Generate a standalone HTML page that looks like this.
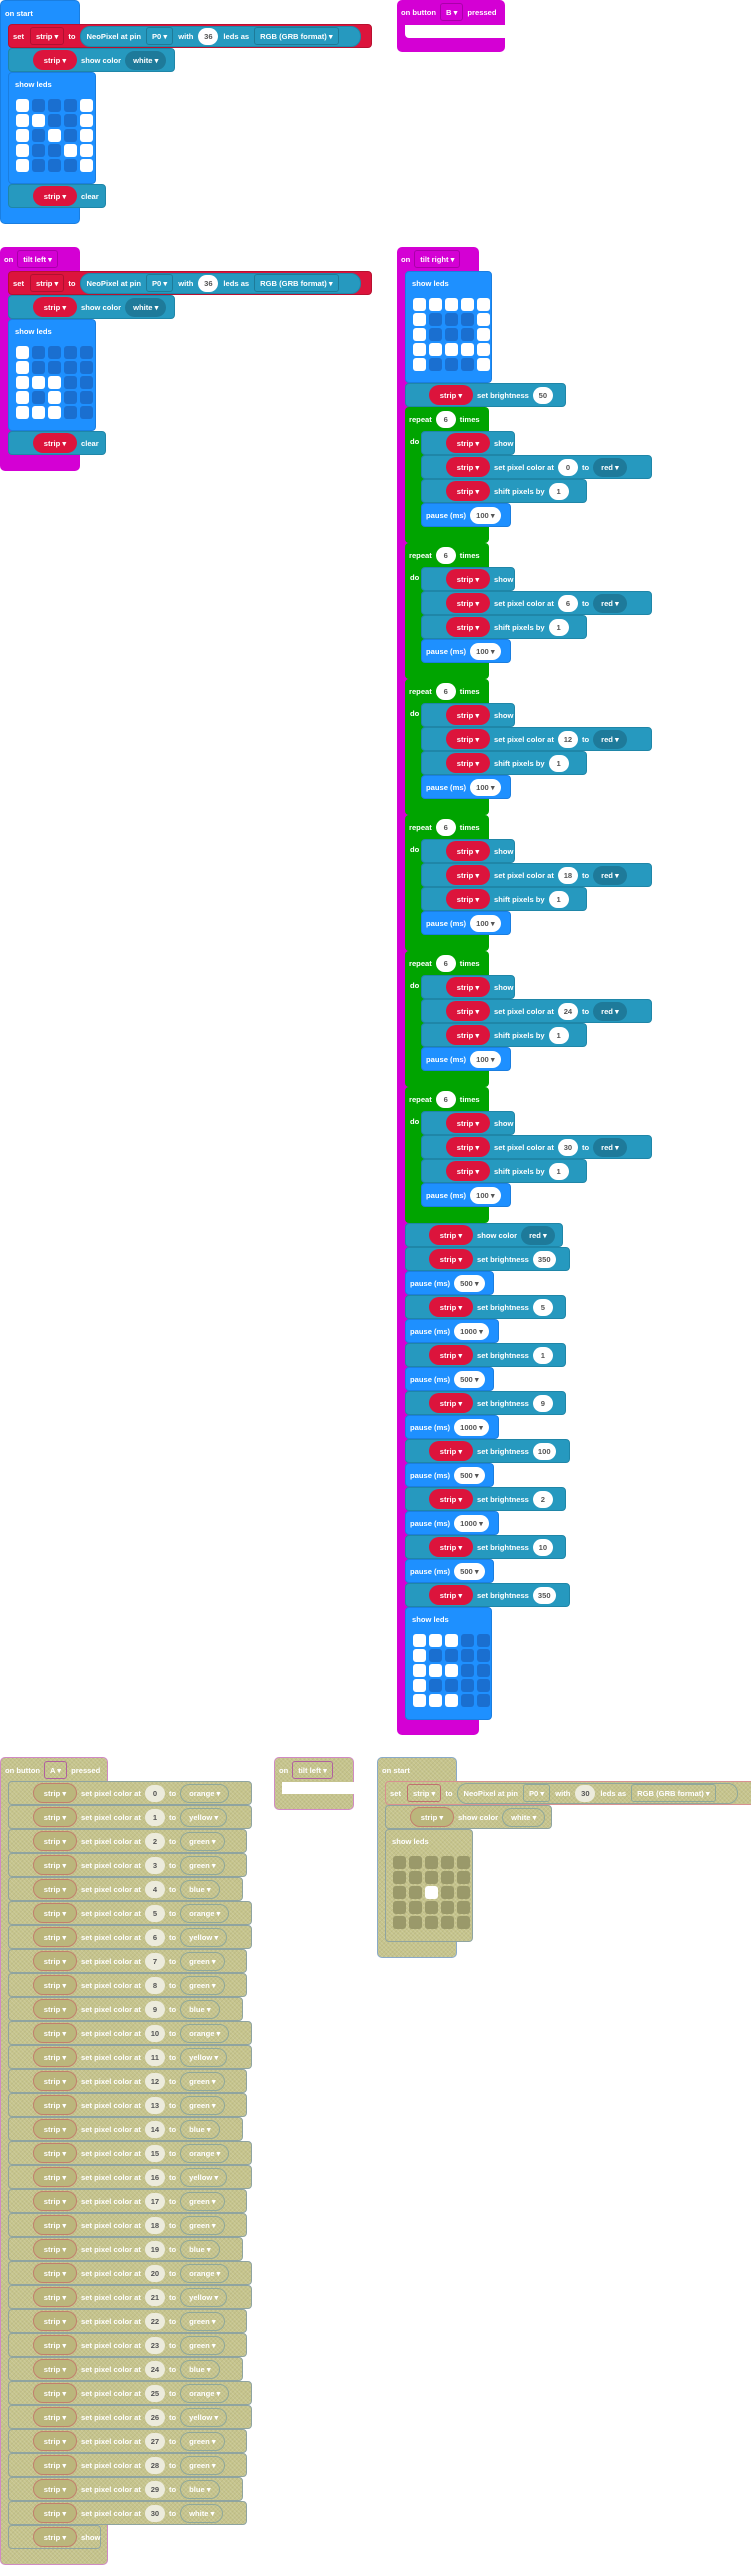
<!DOCTYPE html>
<html><head><meta charset="utf-8"><style>
*{box-sizing:border-box}
body{margin:0;width:751px;height:2566px;overflow:hidden;background:#fff;position:relative;font:bold 7.6px "Liberation Sans",sans-serif;color:#fff}
.h{position:absolute;border-radius:5px}
.hd{position:absolute;left:0;top:0;height:24px;display:flex;align-items:center;gap:4px;padding-left:4px;white-space:nowrap}
.st{position:absolute;height:24px;display:flex;align-items:center;gap:4px;padding-left:24px;border-radius:4px;white-space:nowrap}
.tl{background:#2699bf;border:1px solid #1f86a8}
.rd{background:#dc143c;border:1px solid #b8102f}
.bl{background:#1e90ff;border:1px solid #1a7ee0}
.gr{background:#00a400}
.pu{background:#d400d4}
.sp{height:20px;border-radius:10px;background:#dc143c;display:flex;align-items:center;padding:0 8px;min-width:44px;justify-content:center}
.nm{height:17px;border-radius:9px;background:#fff;color:#555;display:flex;align-items:center;justify-content:center;min-width:20px;padding:0 5px}
.dd{height:19px;border-radius:10px;display:flex;align-items:center;padding:0 8px;background:#1e7a9a}
.dw{height:17px;border-radius:9px;background:#fff;color:#555;display:flex;align-items:center;padding:0 6px}
.sq{height:18px;border-radius:3px;display:flex;align-items:center;padding:0 5px;border:1px solid rgba(0,0,0,.2)}
.lb{position:absolute;left:6px;top:7px}
.g{position:absolute;left:7px;top:26px;width:80px;height:75px}
.c{position:absolute;width:13px;height:13px;border-radius:3px;background:#1a6fd0}
.c.on{background:#fff}
.d{background:#c6c48c;background-image:repeating-linear-gradient(45deg,rgba(255,255,255,.13) 0 1px,transparent 1px 3px),repeating-linear-gradient(-45deg,rgba(0,0,0,.05) 0 1px,transparent 1px 3px);border:1px solid #8fa4a0}
.ds{background:#bbb67c;border:1px solid #c27f6c}
.dn{background:#ecebdc;color:#555}
.ddd{background:transparent;border:1px solid #8fa89a}
.dc{background:#9a996a}
</style></head><body>

<div class="h bl" style="left:0;top:0;width:80px;height:224px"><div class="hd">on start</div></div>
<div class="st rd" style="left:8px;top:24px;width:364px;padding-left:4px"><span style="margin-right:2px">set</span><span class="sq" style="background:#dc143c">strip ▾</span>to<span class="dd" style="background:#2699bf;height:21px;padding:0 6px;gap:5px;width:281px;border:1px solid #1f86a8">NeoPixel at pin<span class="sq">P0 ▾</span>with<span class="nm">36</span>leds as<span class="sq">RGB (GRB format) ▾</span></span></div>
<div class="st tl" style="left:8px;top:48px;width:167px"><span class="sp">strip ▾</span>show color<span class="dd">white ▾</span></div>
<div class="h bl" style="left:8px;top:72px;width:88px;height:112px;border-radius:4px"><span class="lb">show leds</span><div class="g" id="g1"></div></div>
<div class="st tl" style="left:8px;top:184px;width:98px"><span class="sp">strip ▾</span>clear</div>

<div class="h pu" style="left:397px;top:0;width:108px;height:52px"><div class="hd">on button <span class="sq">B ▾</span> pressed</div></div>
<div style="position:absolute;left:405px;top:25px;width:100px;height:13px;background:#fff;border-radius:0 0 0 4px"></div>

<div class="h pu" style="left:0;top:247px;width:80px;height:224px"><div class="hd">on <span class="sq">tilt left ▾</span></div></div>
<div class="st rd" style="left:8px;top:271px;width:364px;padding-left:4px"><span style="margin-right:2px">set</span><span class="sq" style="background:#dc143c">strip ▾</span>to<span class="dd" style="background:#2699bf;height:21px;padding:0 6px;gap:5px;width:281px;border:1px solid #1f86a8">NeoPixel at pin<span class="sq">P0 ▾</span>with<span class="nm">36</span>leds as<span class="sq">RGB (GRB format) ▾</span></span></div>
<div class="st tl" style="left:8px;top:295px;width:167px"><span class="sp">strip ▾</span>show color<span class="dd">white ▾</span></div>
<div class="h bl" style="left:8px;top:319px;width:88px;height:112px;border-radius:4px"><span class="lb">show leds</span><div class="g" id="g2"></div></div>
<div class="st tl" style="left:8px;top:431px;width:98px"><span class="sp">strip ▾</span>clear</div>

<div class="h pu" style="left:397px;top:247px;width:82px;height:1488px"><div class="hd">on <span class="sq">tilt right ▾</span></div></div>
<div class="h bl" style="left:405px;top:271px;width:87px;height:112px;border-radius:4px"><span class="lb">show leds</span><div class="g" id="g3"></div></div>
<div class="st tl" style="left:405px;top:383px;width:161px;padding-left:23px"><span class="sp">strip ▾</span>set brightness<span class="nm">50</span></div>
<div id="reps"></div>
<div id="tail"></div>
<div class="h bl" style="left:405px;top:1607px;width:87px;height:113px;border-radius:4px"><span class="lb">show leds</span><div class="g" id="g4"></div></div>

<div class="h d" style="left:0;top:1757px;width:108px;height:808px;border-color:#d08ac4"><div class="hd">on button <span class="sq ddd" style="border-color:#b060a0">A ▾</span> pressed</div></div>
<div id="rows"></div>
<div class="st d" style="left:8px;top:2525px;width:93px"><span class="sp ds">strip ▾</span>show</div>

<div class="h d" style="left:274px;top:1757px;width:80px;height:53px;border-color:#d08ac4"><div class="hd">on <span class="sq ddd" style="border-color:#b060a0">tilt left ▾</span></div></div>
<div style="position:absolute;left:282px;top:1782px;width:72px;height:12px;background:#fff"></div>

<div class="h d" style="left:377px;top:1757px;width:80px;height:201px;border-color:#8aaac8"><div class="hd">on start</div></div>
<div class="st d" style="left:385px;top:1781px;width:380px;padding-left:4px;border-color:#d89090"><span style="margin-right:2px">set</span><span class="sq ddd" style="border-color:#c07070">strip ▾</span>to<span class="dd ddd" style="height:21px;padding:0 6px;gap:5px;width:281px">NeoPixel at pin<span class="sq ddd">P0 ▾</span>with<span class="nm dn">30</span>leds as<span class="sq ddd">RGB (GRB format) ▾</span></span></div>
<div class="st d" style="left:385px;top:1805px;width:167px"><span class="sp ds">strip ▾</span>show color<span class="dd ddd">white ▾</span></div>
<div class="h d" style="left:385px;top:1829px;width:88px;height:113px;border-radius:4px"><span class="lb">show leds</span><div class="g" id="g5"></div></div>

<script>
function grid(id,p,dis){var g=document.getElementById(id),h='';for(var r=0;r<5;r++)for(var c=0;c<5;c++){var on=p[r][c]=='1';h+='<div class="c'+(on?' on':(dis?' dc':''))+'" style="left:'+(c*16)+'px;top:'+(r*15)+'px"></div>';}g.innerHTML=h;}
grid('g1',['10001','11001','10101','10011','10001']);
grid('g2',['10000','10000','11100','10100','11100']);
grid('g3',['11111','10001','10001','11111','10001']);
grid('g4',['11100','10000','11100','10000','11100']);
grid('g5',['00000','00000','00100','00000','00000'],true);
var h='',nums=[0,6,12,18,24,30];
for(var k=0;k<6;k++){var t=407+136*k;
h+='<div class="h gr" style="left:405px;top:'+t+'px;width:84px;height:136px;border-radius:4px"><div class="hd">repeat<span class="nm">6</span>times</div><span style="position:absolute;left:5px;top:30px">do</span></div>';
h+='<div class="st tl" style="left:421px;top:'+(t+24)+'px;width:94px"><span class="sp">strip ▾</span>show</div>';
h+='<div class="st tl" style="left:421px;top:'+(t+48)+'px;width:231px"><span class="sp">strip ▾</span>set pixel color at<span class="nm">'+nums[k]+'</span>to<span class="dd">red ▾</span></div>';
h+='<div class="st tl" style="left:421px;top:'+(t+72)+'px;width:166px"><span class="sp">strip ▾</span>shift pixels by<span class="nm">1</span></div>';
h+='<div class="st bl" style="left:421px;top:'+(t+96)+'px;width:90px;padding-left:4px">pause (ms)<span class="dw">100 ▾</span></div>';}
document.getElementById('reps').innerHTML=h;
h='<div class="st tl" style="left:405px;top:1223px;width:158px;padding-left:23px"><span class="sp">strip ▾</span>show color<span class="dd">red ▾</span></div>';
var seq=['b350','p500','b5','p1000','b1','p500','b9','p1000','b100','p500','b2','p1000','b10','p500','b350'];
for(var i=0;i<seq.length;i++){var y=1247+24*i,v=seq[i].slice(1);
if(seq[i][0]=='b')h+='<div class="st tl" style="left:405px;top:'+y+'px;width:'+(v.length>2?165:161)+'px;padding-left:23px"><span class="sp">strip ▾</span>set brightness<span class="nm">'+v+'</span></div>';
else h+='<div class="st bl" style="left:405px;top:'+y+'px;width:'+(v.length>3?94:89)+'px;padding-left:4px">pause (ms)<span class="dw">'+v+' ▾</span></div>';}
document.getElementById('tail').innerHTML=h;
h='';var cols=['orange','yellow','green','green','blue'],wd={orange:244,yellow:244,green:239,blue:235,white:239};
for(var i=0;i<31;i++){var cl=i==30?'white':cols[i%5];
h+='<div class="st d" style="left:8px;top:'+(1781+24*i)+'px;width:'+wd[cl]+'px"><span class="sp ds">strip ▾</span>set pixel color at<span class="nm dn">'+i+'</span>to<span class="dd ddd">'+cl+' ▾</span></div>';}
document.getElementById('rows').innerHTML=h;
</script>
</body></html>
